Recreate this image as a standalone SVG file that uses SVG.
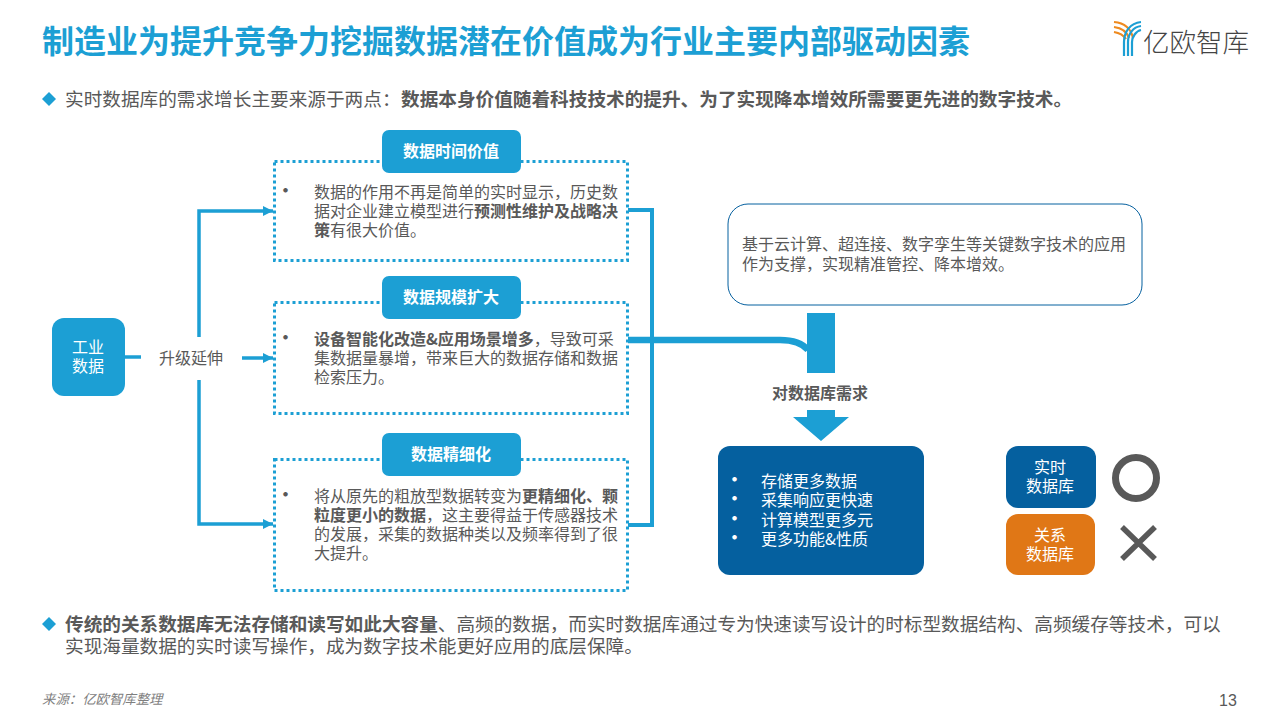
<svg xmlns="http://www.w3.org/2000/svg" width="1280" height="720" viewBox="0 0 1280 720">
<style>
text{font-family:"Noto Sans CJK SC","Noto Sans",sans-serif;fill:#595959}
.b{font-weight:700}
.t{font-size:16px}
.w{fill:#fff}
.c{text-anchor:middle}
.dot{fill:#fff;stroke:#1c9fd4;stroke-width:3;stroke-dasharray:3 3}
.tag{fill:#1c9fd4}
.line{fill:none;stroke:#1c9fd4;stroke-width:3.5}
.bl{font-size:18.65px}
.p{font-size:21px}
</style>
<defs><marker id="a" markerUnits="userSpaceOnUse" markerWidth="12" markerHeight="12" refX="10" refY="6" orient="auto"><path d="M0 1L10 6L0 11Z" fill="#1c9fd4"/></marker></defs>
<rect width="1280" height="720" fill="#fff"/>
<text x="42" y="53" font-size="32" class="b" style="fill:#1c9fd4">制造业为提升竞争力挖掘数据潜在价值成为行业主要内部驱动因素</text>
<g id="logo">
<path d="M1114 22C1125 23 1131 29 1133 38M1114 27C1122 28 1127 32 1129 38M1114 32C1120 33 1124 36 1126 39" fill="none" stroke="#ee8a1f" stroke-width="2.200"/>
<path d="M1141 22C1130 23 1124 32 1124 42V56M1141 26C1133 27 1128 34 1128 42V56M1141 30C1136 31 1132 37 1132 42V56" fill="none" stroke="#1c9fd4" stroke-width="2.200"/>
<text x="1143" y="52" font-size="26.500" style="fill:#444;font-weight:300">亿欧智库</text>
</g>
<path d="M49 92L56 99L49 106L42 99Z" fill="#1c9fd4"/>
<text x="65" y="106" class="bl">实时数据库的需求增长主要来源于两点&#xFF1A;<tspan class="b" x="401">数据本身价值随着科技技术的提升、为了实现降本增效所需要更先进的数字技术。</tspan></text>
<g id="connectors">
<path class="line" d="M125 357H141"/>
<path class="line" d="M242 358H273" marker-end="url(#a)"/>
<path class="line" d="M199 337V211H273" marker-end="url(#a)"/>
<path class="line" d="M199 380V524H273" marker-end="url(#a)"/>
<path d="M628 210H652V525H628" fill="none" stroke="#1c9fd4" stroke-width="4"/>
<path d="M628 340H780C795 340 803 344 808 350" fill="none" stroke="#1c9fd4" stroke-width="6.500"/>
</g>
<g id="source">
<rect x="52" y="318" width="73" height="78" rx="12" fill="#1c9fd4"/>
<text class="t w c" y="353"><tspan x="88">工业</tspan><tspan x="88" dy="19">数据</tspan></text>
</g>
<text id="upgrade" x="159" y="364" class="t">升级延伸</text>
<g id="box1">
<rect class="dot" x="274.500" y="161.500" width="353" height="99"/>
<rect class="tag" x="382" y="130" width="139" height="43" rx="7"/>
<text class="t b w c" x="451" y="157">数据时间价值</text>
<text class="t" y="198"><tspan class="p" x="275">•</tspan><tspan x="314">数据的作用不再是简单的实时显示&#xFF0C;历史数</tspan><tspan x="314" dy="19">据对企业建立模型进行</tspan><tspan class="b">预测性维护及战略决</tspan><tspan class="b" x="314" dy="19">策</tspan><tspan>有很大价值。</tspan></text>
</g>
<g id="box2">
<rect class="dot" x="274.500" y="302.500" width="353" height="111"/>
<rect class="tag" x="382" y="276" width="139" height="43" rx="7"/>
<text class="t b w c" x="451" y="303">数据规模扩大</text>
<text class="t" y="345"><tspan class="p" x="275">•</tspan><tspan class="b" x="314">设备智能化改造&amp;应用场景增多</tspan><tspan>&#xFF0C;导致可采</tspan><tspan x="314" dy="19">集数据量暴增&#xFF0C;带来巨大的数据存储和数据</tspan><tspan x="314" dy="19">检索压力。</tspan></text>
</g>
<g id="box3">
<rect class="dot" x="274.500" y="459.500" width="353" height="131"/>
<rect class="tag" x="382" y="433" width="139" height="43" rx="7"/>
<text class="t b w c" x="451" y="460">数据精细化</text>
<text class="t" y="502"><tspan class="p" x="275">•</tspan><tspan x="314">将从原先的粗放型数据转变为</tspan><tspan class="b">更精细化、颗</tspan><tspan class="b" x="314" dy="19">粒度更小的数据</tspan><tspan>&#xFF0C;这主要得益于传感器技术</tspan><tspan x="314" dy="19">的发展&#xFF0C;采集的数据种类以及频率得到了很</tspan><tspan x="314" dy="19">大提升。</tspan></text>
</g>
<g id="tech">
<rect x="728" y="204" width="414" height="101" rx="20" fill="#fff" stroke="#05609f" stroke-width="1"/>
<text class="t" y="250"><tspan x="742">基于云计算、超连接、数字孪生等关键数字技术的应用</tspan><tspan x="742" dy="20">作为支撑&#xFF0C;实现精准管控、降本增效。</tspan></text>
</g>
<path id="arrow-top" d="M807 313H835V373H807Z" fill="#1c9fd4"/>
<text id="demand" class="t b c" x="820" y="399">对数据库需求</text>
<path id="arrow-bottom" d="M807 410H835V417H849L821 441L793 417H807Z" fill="#1c9fd4"/>
<g id="needs">
<rect x="718" y="446" width="206" height="129" rx="12" fill="#05609f"/>
<text class="t w" y="487"><tspan class="p" x="724">•</tspan><tspan x="761">存储更多数据</tspan><tspan class="p" x="724" dy="19">•</tspan><tspan x="761">采集响应更快速</tspan><tspan class="p" x="724" dy="20">•</tspan><tspan x="761">计算模型更多元</tspan><tspan class="p" x="724" dy="19">•</tspan><tspan x="761">更多功能&amp;性质</tspan></text>
</g>
<g id="rtdb">
<rect x="1006" y="446" width="90" height="62" rx="12" fill="#05609f"/>
<text class="t w c" y="473"><tspan x="1050">实时</tspan><tspan x="1050" dy="19">数据库</tspan></text>
</g>
<g id="rdb">
<rect x="1006" y="514" width="89" height="61" rx="12" fill="#e07716"/>
<text class="t w c" y="541"><tspan x="1050">关系</tspan><tspan x="1050" dy="19">数据库</tspan></text>
</g>
<circle id="yes" cx="1136" cy="478" r="20.500" fill="none" stroke="#595959" stroke-width="7"/>
<path id="no" d="M1122 527L1155 559M1155 527L1122 559" stroke="#595959" stroke-width="5.500" fill="none"/>
<path d="M49 617L56 624L49 631L42 624Z" fill="#1c9fd4"/>
<text class="bl" y="631"><tspan class="b" x="65">传统的关系数据库无法存储和读写如此大容量</tspan><tspan>、高频的数据&#xFF0C;而实时数据库通过专为快速读写设计的时标型数据结构、高频缓存等技术&#xFF0C;可以</tspan><tspan x="65" dy="22">实现海量数据的实时读写操作&#xFF0C;成为数字技术能更好应用的底层保障。</tspan></text>
<text x="42" y="704" font-size="13.400" font-style="italic" style="fill:#7f7f7f">来源&#xFF1A;亿欧智库整理</text>
<text x="1219" y="706" font-size="16" style="fill:#595959;font-family:'Liberation Sans',sans-serif">13</text>
</svg>
